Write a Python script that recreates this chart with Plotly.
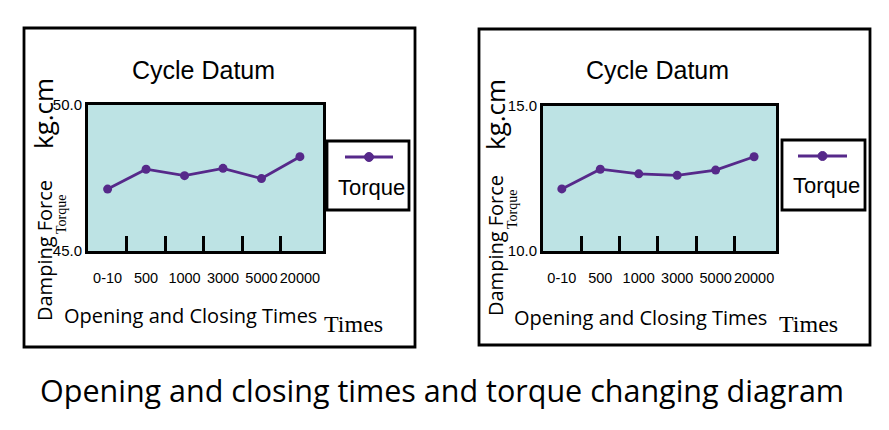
import plotly.graph_objects as go

# ---------------- data ----------------
categories = ["0-10", "500", "1000", "3000", "5000", "20000"]
torque_left = [47.12, 47.80, 47.58, 47.83, 47.48, 48.23]
torque_right = [12.14, 12.82, 12.66, 12.61, 12.79, 13.25]
y_left_ticks = [45.0, 50.0]
y_right_ticks = [10.0, 15.0]
boundary_ticks = [0.5, 1.5, 2.5, 3.5, 4.5]
series_name = "Torque"
chart_title = "Cycle Datum"
caption = "Opening and closing times and torque changing diagram"

# ---------------- style ----------------
W, H = 889, 430
PURPLE = "#56298a"
BG = "#bde3e4"
NARROW = "Liberation Sans, Arial, sans-serif"
SANS = "Open Sans, Noto Sans, sans-serif"
SERIF = "Liberation Serif, Times New Roman, serif"


def px(x, y):
    return x / W, 1 - y / H


idx = list(range(len(categories)))

fig = go.Figure()
fig.add_trace(go.Scatter(x=idx, y=torque_left, mode="lines+markers", name=series_name,
                         line=dict(color=PURPLE, width=2.8),
                         marker=dict(color=PURPLE, size=9), xaxis="x", yaxis="y"))
fig.add_trace(go.Scatter(x=idx, y=torque_right, mode="lines+markers", name=series_name,
                         line=dict(color=PURPLE, width=2.8),
                         marker=dict(color=PURPLE, size=9), xaxis="x2", yaxis="y2"))
# empty helper traces so the boundary-tick axes get drawn
fig.add_trace(go.Scatter(x=[], y=[], xaxis="x3", yaxis="y", hoverinfo="skip", showlegend=False))
fig.add_trace(go.Scatter(x=[], y=[], xaxis="x4", yaxis="y2", hoverinfo="skip", showlegend=False))

panels = [
    dict(xd=(88, 323), yd=(105, 251), xr=[-0.51, 5.6], yt=y_left_ticks, xa="xaxis", xt="xaxis3", ya="yaxis", yid="y", xid="x"),
    dict(xd=(543, 776), yd=(106, 251), xr=[-0.49, 5.57], yt=y_right_ticks, xa="xaxis2", xt="xaxis4", ya="yaxis2", yid="y2", xid="x2"),
]

layout = dict(width=W, height=H, margin=dict(l=0, r=0, t=0, b=0, autoexpand=False),
              paper_bgcolor="white", plot_bgcolor=BG, showlegend=False)

for p in panels:
    xd = [p["xd"][0] / W, p["xd"][1] / W]
    yd = [1 - p["yd"][1] / H, 1 - p["yd"][0] / H]
    layout[p["xa"]] = dict(domain=xd, anchor=p["yid"], range=p["xr"], automargin=False,
                           tickmode="array", tickvals=idx, ticktext=categories, tickangle=0,
                           ticks="", showline=True, mirror=True, linewidth=3, linecolor="black",
                           showgrid=False, zeroline=False, ticklabelstandoff=12,
                           tickfont=dict(family=NARROW, size=14.5, color="black"))
    layout[p["xt"]] = dict(overlaying=p["xid"], anchor=p["yid"], range=p["xr"], automargin=False,
                           tickmode="array", tickvals=boundary_ticks, ticks="inside",
                           ticklen=15, tickwidth=3, tickcolor="black",
                           showticklabels=False, showline=False, showgrid=False, zeroline=False)
    layout[p["ya"]] = dict(domain=yd, anchor=p["xid"], range=[p["yt"][0], p["yt"][-1]], automargin=False,
                           tickmode="array", tickvals=p["yt"], ticktext=[f"{v:.1f}" for v in p["yt"]],
                           ticks="", showline=True, mirror=True, linewidth=3, linecolor="black",
                           showgrid=False, zeroline=False, ticklabelstandoff=0,
                           tickfont=dict(family=NARROW, size=15, color="black"))

fig.update_layout(**layout)

shapes = []
annotations = []


def rect(x0, y0, x1, y1, w):
    a = px(x0, y0)
    b = px(x1, y1)
    shapes.append(dict(type="rect", xref="paper", yref="paper", x0=a[0], y0=b[1], x1=b[0], y1=a[1],
                       line=dict(color="black", width=w), fillcolor="rgba(0,0,0,0)"))


def text(s, x, y, font, size, angle=0):
    a = px(x, y)
    annotations.append(dict(text=s, x=a[0], y=a[1], xref="paper", yref="paper", showarrow=False,
                            xanchor="center", yanchor="middle", textangle=angle,
                            font=dict(family=font, size=size, color="black")))


frames = [
    dict(box=(24, 28, 415, 347), title=(203, 70), leg=(327, 141, 409, 210), legline=(345, 393, 157),
         legtext=(371, 187), kg=(43, 114), df=(44, 251), tq=(61, 215), xt=(190, 315), tm=(353, 324)),
    dict(box=(479, 29, 870, 345), title=(657, 70), leg=(782, 140, 865, 210), legline=(798, 847, 156),
         legtext=(826, 186), kg=(495, 114), df=(496, 246), tq=(512, 210), xt=(640, 317), tm=(808, 324)),
]

for f in frames:
    rect(*f["box"], 2.8)
    rect(*f["leg"], 2.8)
    x0, x1, yl = f["legline"]
    a = px(x0, yl)
    b = px(x1, yl)
    shapes.append(dict(type="line", xref="paper", yref="paper", x0=a[0], y0=a[1], x1=b[0], y1=b[1],
                       line=dict(color=PURPLE, width=2.8)))
    cx = (x0 + x1) / 2
    c0 = px(cx - 4.5, yl - 4.5)
    c1 = px(cx + 4.5, yl + 4.5)
    shapes.append(dict(type="circle", xref="paper", yref="paper", x0=c0[0], y0=c1[1], x1=c1[0], y1=c0[1],
                       line=dict(color=PURPLE, width=1), fillcolor=PURPLE))
    text(series_name, *f["legtext"], NARROW, 22)
    text(chart_title, *f["title"], NARROW, 25)
    text("kg.cm", *f["kg"], SANS, 26, -90)
    text("Damping Force", *f["df"], SANS, 20, -90)
    text("Torque", *f["tq"], SERIF, 14, -90)
    text("Opening and Closing Times", *f["xt"], SANS, 20)
    text("Times", *f["tm"], SERIF, 24)

text(caption, 442, 390, SANS, 30.5)

fig.update_layout(shapes=shapes, annotations=annotations)
fig.write_html("out.html")
